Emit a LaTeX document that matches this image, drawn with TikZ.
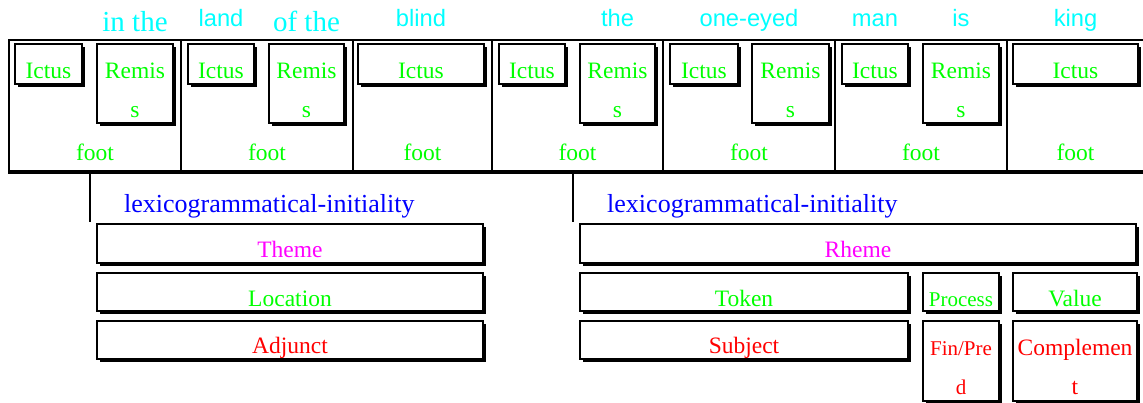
\documentclass[tikz,border=0pt]{standalone}
\usepackage{fontspec}
\setmainfont{Liberation Serif}
\newfontfamily\cysans{Liberation Sans}
\usetikzlibrary{shadows,calc}
\definecolor{cyc}{RGB}{0,255,255}
\definecolor{grc}{RGB}{0,255,0}
\definecolor{blc}{RGB}{0,0,255}
\definecolor{mgc}{RGB}{255,0,255}
\definecolor{rdc}{RGB}{255,0,0}
\tikzset{
  sbox/.style={draw, line width=1.7pt, fill=white, inner sep=0pt,
    drop shadow={shadow xshift=3.2pt, shadow yshift=-3.2pt, fill=black, opacity=1}},
  fcell/.style={draw, line width=1.6pt, inner sep=0pt},
  gtxt/.style={anchor=base, inner sep=0pt, text=grc, font=\fontsize{23.5}{28}\selectfont},
  stxt/.style={anchor=base, inner sep=0pt, text=grc, font=\fontsize{21}{25}\selectfont},
  rtxt/.style={anchor=base, inner sep=0pt, text=rdc, font=\fontsize{23.5}{28}\selectfont},
  rstxt/.style={anchor=base, inner sep=0pt, text=rdc, font=\fontsize{21}{25}\selectfont},
  mtxt/.style={anchor=base, inner sep=0pt, text=mgc, font=\fontsize{23.5}{28}\selectfont},
  btxt/.style={anchor=base west, inner sep=0pt, text=blc, font=\fontsize{26}{30}\selectfont},
  cserif/.style={anchor=base, inner sep=0pt, text=cyc, font=\fontsize{29}{34}\selectfont},
  csans/.style={anchor=base, inner sep=0pt, text=cyc, font=\cysans\fontsize{23.7}{28}\selectfont},
  conn/.style={line width=1.8pt},
}
\newcommand\sbx[5]{\node[sbox, minimum width={#4-#2}, minimum height={#5-#3}] (#1) at ({(#2+#4)/2},{(#3+#5)/2}) {};}
\newcommand\fbx[5]{\node[fcell, minimum width={#4-#2}, minimum height={#5-#3}] (#1) at ({(#2+#4)/2},{(#3+#5)/2}) {};}
\begin{document}
\begin{tikzpicture}[x=1pt,y=-1pt]
\useasboundingbox[fill=white] (0,0) rectangle (1143,403);
% foot cells
\fbx{foot1}{9}{40}{181}{171}
\fbx{foot2}{181}{40}{353}{171}
\fbx{foot3}{353}{40}{492}{171}
\fbx{foot4}{492}{40}{663}{171}
\fbx{foot5}{663}{40}{835}{171}
\fbx{foot6}{835}{40}{1007}{171}
\fbx{foot7}{1007}{40}{1170}{171}
\draw[line width=4pt] (foot1.south west) -- (foot7.south east);
\foreach \i in {1,...,6} {\node[gtxt] (ft\i) at ($(foot\i.north)+(0,121)$) {foot};}
% ictus / remis boxes
\sbx{ic1}{15}{44}{82}{84}
\sbx{re1}{97}{44}{173}{123}
\sbx{ic2}{188}{44}{254}{84}
\sbx{re2}{269}{44}{344}{123}
\sbx{ic3}{358}{44}{484}{84}
\sbx{ic4}{499}{44}{565}{84}
\sbx{re4}{580}{44}{655}{123}
\sbx{ic5}{670}{44}{738}{84}
\sbx{re5}{752}{44}{829}{123}
\sbx{ic6}{842}{44}{908}{84}
\sbx{re6}{923}{44}{999}{123}
\sbx{ic7}{1013}{44}{1138}{84}
\node[gtxt] (ft7) at ($(ic7.north)+(0,117)$) {foot};
\foreach \n in {ic1,ic2,ic3,ic4,ic5,ic6,ic7} {\node[gtxt] (t\n) at ($(\n.north)+(0,35)$) {Ictus};}
\foreach \n in {re1,re2,re4,re5,re6} {
  \node[gtxt] (t\n) at ($(\n.north)+(0,35)$) {Remis};
  \node[gtxt] (s\n) at ($(\n.north)+(0,74)$) {s};}
% words
\node[cserif] (w1) at (re1.center |- 0,32) {in the};
\node[csans] (w2) at (ic2.center |- 0,27) {land};
\node[cserif] (w3) at (re2.center |- 0,32) {of the};
\node[csans] (w4) at (ic3.center |- 0,27) {blind};
\node[csans] (w5) at (re4.center |- 0,27) {the};
\node[csans] (w6) at (foot5.center |- 0,27) {one-eyed};
\node[csans] (w7) at (ic6.center |- 0,27) {man};
\node[csans] (w8) at (re6.center |- 0,27) {is};
\node[csans] (w9) at (ic7.center |- 0,27) {king};
% connectors
\coordinate (la) at (90,173);
\coordinate (lb) at (90,222);
\coordinate (ra) at (573,173);
\coordinate (rb) at (573,222);
\draw[conn] (la) -- (lb);
\draw[conn] (ra) -- (rb);
\node[btxt] (lex1) at (124,213) {lexicogrammatical-initiality};
\node[btxt] (lex2) at (607,213) {lexicogrammatical-initiality};
% lower boxes
\sbx{theme}{97}{224}{483}{263}
\sbx{loc}{97}{273}{483}{311}
\sbx{adj}{97}{321}{483}{359}
\sbx{rheme}{580}{224}{1136}{263}
\sbx{token}{580}{273}{908}{311}
\sbx{proc}{923}{273}{999}{311}
\sbx{value}{1013}{273}{1137}{311}
\sbx{subj}{580}{321}{908}{359}
\sbx{finp}{923}{321}{999}{401}
\sbx{comp}{1013}{321}{1137}{401}
\node[mtxt] (ttheme) at ($(theme.north)+(0,34)$) {Theme};
\node[gtxt] (tloc) at ($(loc.north)+(0,34)$) {Location};
\node[rtxt] (tadj) at ($(adj.north)+(0,33)$) {Adjunct};
\node[mtxt] (trheme) at ($(rheme.north)+(0,34)$) {Rheme};
\node[gtxt] (ttoken) at ($(token.north)+(0,34)$) {Token};
\node[stxt] (tproc) at ($(proc.north)+(0,34)$) {Process};
\node[gtxt] (tvalue) at ($(value.north)+(0,34)$) {Value};
\node[rtxt] (tsubj) at ($(subj.north)+(0,33)$) {Subject};
\node[rstxt] (tfin1) at ($(finp.north)+(0,35)$) {Fin/Pre};
\node[rstxt] (tfin2) at ($(finp.north)+(0,74)$) {d};
\node[rtxt] (tcomp1) at ($(comp.north)+(0,35)$) {Complemen};
\node[rtxt] (tcomp2) at ($(comp.north)+(0,74)$) {t};
\end{tikzpicture}
\end{document}
